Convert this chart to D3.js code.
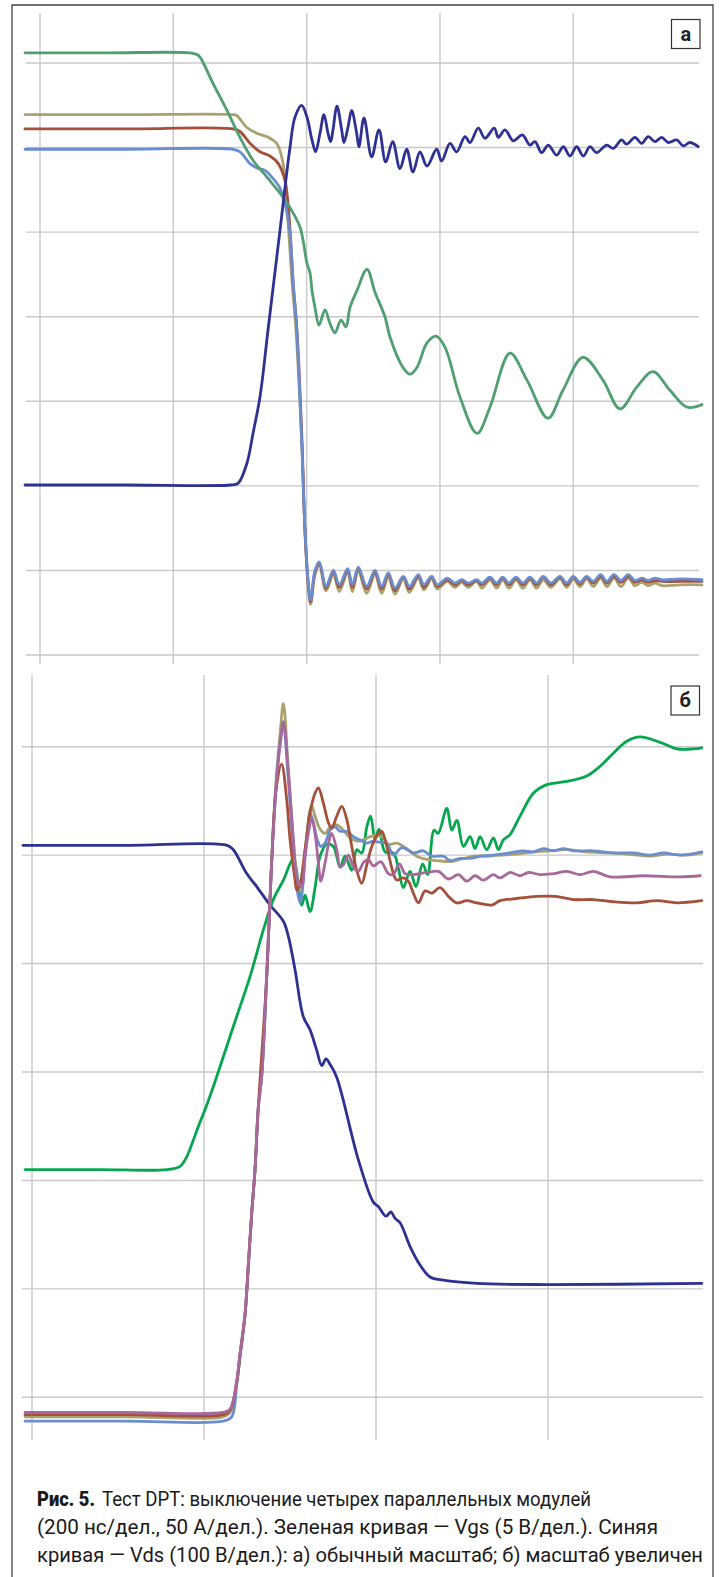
<!DOCTYPE html>
<html>
<head>
<meta charset="utf-8">
<script src="https://cdn.jsdelivr.net/npm/d3@7"></script>
<style>
  html, body { margin: 0; padding: 0; background: #fff; }
</style>
</head>
<body>
<div id="chart"></div>
<script>
// Time in ns, amplitude in scope divisions. Panel "а" (normal scale)
const aTicksX = [0, 200, 400, 600, 800];
const aTicksY = [0, 1, 2, 3, 4, 5, 6, 7];

const aVgs = [[-22.5,7.12],[100,7.12],[225,7.12],[235.5,7.10],[240,7.07],[259.5,6.76],[280.5,6.44],[300,6.12],[319.5,5.85],[340.5,5.65],[360,5.46],[375,5.29],[390,5.06],[394.5,4.91],[400.5,4.63],[405,4.52],[408,4.31],[412.5,4.11],[418.5,3.90],[427.5,4.08],[435,3.92],[442.5,3.81],[451.5,3.96],[459,3.88],[465,4.11],[475.5,4.31],[490.5,4.56],[502.5,4.29],[517.5,4.00],[525,3.76],[544.5,3.40],[555,3.32],[565.5,3.40],[580.5,3.69],[594,3.77],[607.5,3.64],[630,3.05],[655.5,2.62],[675,2.93],[705,3.57],[730.5,3.25],[762,2.80],[784.5,3.13],[814.5,3.52],[844.5,3.25],[870,2.91],[895.5,3.17],[919.5,3.35],[945,3.13],[970.5,2.93],[993,2.96]];

const aVds = [[-22.5,2.01],[130,2.01],[285,2.01],[297,2.03],[310.5,2.27],[319.5,2.62],[330,3.05],[342,3.84],[360,5.02],[375,6.00],[382.5,6.36],[392.5,6.50],[400.5,6.36],[408,6.09],[413.5,5.95],[420,6.17],[426,6.39],[432,6.17],[436,6.07],[439.5,6.21],[445.5,6.49],[452.5,6.21],[456,6.06],[462,6.24],[467.5,6.44],[475,6.17],[478.5,6.01],[486,6.35],[497.5,5.89],[508.5,6.21],[518.5,5.83],[529,6.07],[540,5.75],[550,5.98],[559.5,5.71],[570,5.95],[580.5,5.78],[595,5.98],[602.5,5.84],[615,6.05],[625,5.95],[637.5,6.13],[645,6.06],[657.5,6.23],[667.5,6.11],[681.5,6.23],[687.5,6.12],[697.5,6.21],[710,6.08],[723.5,6.15],[735,6.03],[742.5,6.07],[752.5,5.94],[762.5,6.03],[775,5.91],[785,6.01],[795,5.90],[805,6.01],[815,5.90],[825,6.01],[835,5.94],[850,6.03],[860,5.99],[872.5,6.09],[880,6.04],[892.5,6.12],[902.5,6.05],[912.5,6.13],[922.5,6.07],[932.5,6.12],[942.5,6.06],[955,6.09],[965,6.02],[975,6.06],[987.5,6.01]];

const aIdOlive = [[-22.5,6.39],[130,6.39],[289.5,6.39],[295,6.38],[310,6.24],[325,6.17],[340,6.13],[355,6.05],[362.5,5.89],[367.5,5.65],[372.5,5.08],[378,4.43],[384,3.84],[392.5,2.54],[397.5,1.45],[402.5,0.79],[406,0.60],[412.5,0.95],[419,1.06],[429,0.76],[440,0.95],[449,0.75],[461.5,0.98],[468.5,0.75],[477.5,0.99],[490,0.73],[502.5,0.95],[512.5,0.73],[522.5,0.92],[532.5,0.72],[545,0.90],[554,0.74],[567.5,0.91],[576,0.77],[587.5,0.90],[596,0.78],[611,0.87],[622.5,0.80],[632.5,0.86],[642.5,0.80],[655,0.87],[663,0.79],[675,0.89],[685,0.79],[694,0.89],[703.5,0.79],[714,0.89],[724.5,0.79],[735,0.89],[745,0.79],[755,0.89],[766.5,0.80],[780,0.90],[790,0.80],[800,0.90],[810,0.81],[820,0.90],[830,0.81],[841,0.91],[850.5,0.81],[861,0.91],[871.5,0.81],[882.5,0.91],[892.5,0.82],[902.5,0.86],[912,0.82],[922.5,0.85],[933,0.82],[960,0.83],[993,0.83]];

const aIdBrown = [[-22.5,6.22],[130,6.22],[289.5,6.22],[300,6.19],[315,6.05],[330,5.95],[345,5.90],[357.5,5.81],[367.5,5.61],[372.5,5.30],[376,4.91],[380,4.37],[385.5,3.84],[393,2.54],[397.5,1.47],[402.5,0.83],[406,0.63],[412.5,0.98],[419,1.08],[429,0.79],[440,0.98],[449,0.80],[461.5,1.00],[468.5,0.80],[477.5,1.02],[490,0.78],[502.5,0.98],[512.5,0.78],[522.5,0.95],[532.5,0.76],[545,0.92],[554,0.78],[567.5,0.93],[576,0.80],[587.5,0.92],[596,0.81],[611,0.89],[622.5,0.83],[632.5,0.88],[642.5,0.83],[655,0.88],[663,0.83],[675,0.91],[685,0.83],[694,0.91],[703.5,0.83],[714,0.91],[724.5,0.83],[735,0.91],[745,0.83],[755,0.92],[766.5,0.83],[780,0.92],[790,0.83],[800,0.92],[810,0.84],[820,0.92],[830,0.85],[841,0.93],[850.5,0.85],[861,0.93],[871.5,0.86],[882.5,0.93],[892.5,0.86],[902.5,0.89],[912,0.86],[922.5,0.88],[933,0.87],[960,0.87],[993,0.87]];

const aIdBlue = [[-22.5,5.98],[130,5.98],[289.5,5.98],[300,5.95],[315,5.81],[325,5.76],[337.5,5.73],[350,5.63],[360,5.52],[367.5,5.34],[375,4.98],[379.5,4.43],[385,3.87],[392.5,2.54],[397.5,1.48],[402.5,0.85],[406,0.65],[412.5,1.00],[419,1.10],[429,0.81],[440,1.00],[449,0.83],[461.5,1.02],[468.5,0.83],[477.5,1.04],[490,0.81],[502.5,1.00],[512.5,0.81],[522.5,0.97],[532.5,0.79],[545,0.93],[554,0.81],[567.5,0.95],[576,0.83],[587.5,0.93],[596,0.83],[611,0.91],[622.5,0.85],[632.5,0.89],[642.5,0.85],[655,0.89],[663,0.85],[675,0.92],[685,0.85],[694,0.92],[703.5,0.85],[714,0.92],[724.5,0.85],[735,0.92],[745,0.85],[755,0.93],[766.5,0.85],[780,0.93],[790,0.85],[800,0.93],[810,0.86],[820,0.93],[830,0.87],[841,0.95],[850.5,0.87],[861,0.95],[871.5,0.88],[882.5,0.95],[892.5,0.88],[902.5,0.91],[912,0.88],[922.5,0.91],[933,0.89],[960,0.90],[993,0.89]];

// Panel "б" (zoomed)
const bTicksX = [0, 200, 400, 600];
const bTicksY = [0, 1, 2, 3, 4, 5, 6];

const bVgs = [[-8.1,2.10],[80,2.10],[157,2.10],[172.1,2.13],[180,2.22],[187,2.36],[194.5,2.52],[202.5,2.68],[212.8,2.91],[234.1,3.42],[253.5,3.88],[269,4.31],[280.6,4.59],[292.3,4.77],[303.9,4.96],[313.6,4.54],[317.5,4.63],[323.3,4.48],[329.1,4.70],[335,4.99],[342.7,5.10],[350.4,5.08],[358.2,4.89],[364,4.99],[371.8,4.86],[377.6,5.05],[383.4,5.02],[389.3,5.26],[393.7,5.36],[398.9,5.15],[403.6,5.24],[410.5,5.03],[420.2,5.02],[426,4.88],[431.8,4.70],[439.6,4.85],[446.4,4.71],[454.2,4.92],[460,4.82],[467.5,5.23],[472.2,5.20],[482.3,5.43],[488.1,5.23],[494,5.32],[501.6,5.08],[509.4,5.17],[515.2,5.06],[521,5.17],[528.8,5.05],[536.5,5.16],[542.3,5.05],[548.1,5.14],[555.9,5.19],[567.5,5.36],[583,5.57],[598.6,5.65],[621.9,5.68],[645.1,5.73],[660.6,5.82],[676,5.94],[691.6,6.05],[707.1,6.09],[730.4,6.04],[749.8,5.98],[769.1,5.98],[778.8,5.99]];

const bVds = [[-10.5,5.09],[110,5.09],[226.8,5.09],[234.1,5.05],[249.7,4.83],[261.3,4.71],[276.8,4.54],[292.3,4.39],[298.1,4.25],[305.9,3.94],[315.5,3.51],[323.3,3.39],[331.1,3.20],[336.9,3.06],[341.9,3.12],[346.6,3.07],[354.4,2.95],[379.5,2.19],[396.9,1.80],[402.7,1.76],[411.7,1.67],[417.2,1.71],[422.2,1.65],[428,1.61],[439.6,1.39],[451.2,1.22],[462.9,1.11],[478.3,1.08],[517.2,1.05],[598.6,1.04],[778.8,1.05]];

const bIdOlive = [[-8.1,-0.18],[110,-0.18],[222.1,-0.18],[230.3,-0.14],[238.1,0.14],[241.9,0.39],[247.7,0.76],[251.6,1.22],[255.5,1.70],[259.3,2.10],[263.2,2.68],[267.1,2.96],[272.9,3.88],[278.8,4.96],[283.8,5.69],[288.4,6.11],[292.3,6.40],[297.7,5.83],[303.9,5.14],[308.2,4.79],[310.9,4.68],[313.6,4.80],[319.5,5.17],[323.3,5.42],[325.3,5.45],[329.1,5.36],[335,5.24],[340.8,5.20],[346.6,5.26],[354.4,5.28],[362,5.23],[369.8,5.16],[377.6,5.13],[385.3,5.14],[393.1,5.17],[400.9,5.18],[408.6,5.16],[414.4,5.10],[424.2,5.11],[435.8,5.06],[447.4,4.99],[459,4.96],[470.7,4.95],[486.1,4.94],[497.8,4.96],[513.2,4.99],[528.8,4.99],[544.3,5.00],[563.7,5.01],[583,5.03],[602.4,5.04],[621.9,5.05],[645.1,5.03],[672.2,5.02],[691.6,5.01],[718.7,4.99],[738.1,5.01],[761.4,5.00],[778.8,5.02]];

const bIdBlue = [[-8.1,-0.22],[110,-0.22],[222.1,-0.22],[232.2,-0.18],[238.1,0.12],[241.9,0.37],[247.7,0.76],[251.6,1.22],[255.5,1.70],[259.3,2.10],[263.2,2.68],[267.1,2.96],[272.9,3.88],[278.8,4.96],[283.8,5.63],[288.4,6.01],[292.3,6.20],[298.1,5.69],[303.9,5.05],[308.2,4.68],[311.7,4.56],[313.6,4.62],[317.5,4.99],[321.3,5.30],[323.3,5.39],[327.2,5.30],[331.8,5.14],[335.8,5.08],[340.8,5.11],[346.6,5.23],[352.4,5.26],[358.2,5.22],[366,5.22],[373.7,5.17],[381.5,5.14],[389.3,5.11],[396.9,5.13],[402.7,5.12],[412.5,5.11],[420.2,5.00],[430,5.07],[443.4,5.02],[455.1,5.04],[464.9,4.99],[478.3,4.99],[486.1,4.95],[497.8,4.97],[509.4,4.97],[521,4.99],[536.5,5.00],[555.9,5.02],[571.4,5.04],[583,5.03],[594.6,5.06],[606.3,5.04],[617.9,5.06],[629.5,5.04],[652.8,5.04],[676,5.02],[699.3,5.02],[718.7,5.00],[734.2,5.02],[753.6,5.00],[778.8,5.03]];

const bIdBrown = [[-8.1,-0.16],[110,-0.16],[222.1,-0.16],[230.3,-0.12],[238.1,0.14],[241.9,0.39],[247.7,0.76],[251.6,1.22],[255.5,1.70],[259.3,2.10],[263.2,2.68],[272.9,3.88],[278.8,4.96],[283.8,5.60],[290.2,5.84],[296.2,5.51],[300.1,5.14],[305.9,4.77],[307.8,4.68],[311.7,4.73],[317.5,5.05],[323.3,5.39],[329.1,5.57],[333,5.62],[338.8,5.48],[344.6,5.30],[348.5,5.25],[354.4,5.36],[360.2,5.45],[366,5.33],[371.8,5.08],[377.6,4.86],[383.4,4.74],[389.3,4.91],[395.1,5.08],[402.7,5.20],[406.7,5.22],[412.5,5.08],[420.2,4.83],[424.2,4.77],[431.8,4.79],[437.6,4.76],[443.4,4.65],[449.3,4.56],[457.1,4.67],[464.9,4.65],[474.5,4.70],[484.2,4.62],[493.9,4.56],[505.6,4.58],[517.2,4.56],[534.6,4.54],[544.3,4.58],[563.7,4.60],[587,4.62],[608.2,4.62],[629.5,4.59],[652.8,4.59],[676,4.57],[703.3,4.56],[726.5,4.58],[749.8,4.56],[778.8,4.58]];

const bIdPink = [[-8.1,-0.14],[110,-0.14],[222.1,-0.14],[230.3,-0.11],[238.1,0.16],[241.9,0.41],[247.7,0.77],[251.6,1.24],[255.5,1.70],[259.3,2.10],[263.2,2.68],[267.1,2.96],[272.9,3.88],[278.8,4.96],[283.8,5.63],[288.4,6.03],[292.3,6.23],[298.1,5.76],[303.9,5.14],[307.8,4.80],[313.6,4.71],[317.5,4.99],[321.3,5.20],[325.3,5.34],[329.1,5.20],[333,4.93],[335.8,4.76],[340.8,4.93],[346.6,5.17],[348.5,5.20],[354.4,5.05],[358.2,4.89],[362,4.91],[367.9,5.00],[373.7,4.89],[379.5,4.85],[385.3,4.93],[391.1,4.96],[396.9,4.90],[405.5,4.94],[414.4,4.83],[420.2,4.82],[427.2,4.92],[433.8,4.83],[443.4,4.82],[459,4.84],[472.5,4.85],[484.2,4.78],[495.8,4.82],[505.6,4.76],[515.2,4.81],[524.9,4.77],[536.5,4.82],[544.3,4.79],[555.9,4.84],[567.5,4.81],[577.2,4.84],[590.8,4.82],[606.3,4.83],[621.9,4.85],[637.3,4.82],[652.8,4.85],[672.2,4.80],[711,4.81],[753.6,4.80],[776.9,4.81]];

// caption: one entry per printed fragment
const captionParts = [
  {text: "Рис. 5.", bold: true, line: 0, start: 37, len: 58},
  {text: "Тест DPT: выключение четырех параллельных модулей", bold: false, line: 0, start: 102, len: 489},
  {text: "(200 нс/дел., 50 А/дел.). Зеленая кривая — Vgs (5 В/дел.). Синяя", bold: false, line: 1, start: 37, len: 621},
  {text: "кривая — Vds (100 В/дел.): а) обычный масштаб; б) масштаб увеличен", bold: false, line: 2, start: 37, len: 666}
];

const colors = {
  navy: "#2e3192",
  greenA: "#4f9f70",
  greenB: "#06a64f",
  olive: "#aaa26e",
  brown: "#a4503a",
  lightBlue: "#6a8dcf",
  pink: "#a7699d",
  grid: "#c9c9cb"
};

const width = 719, height = 1577;

const svg = d3.select("#chart").append("svg")
  .attr("width", width)
  .attr("height", height)
  .attr("viewBox", [0, 0, width, height])
  .style("display", "block");

// panel scales
const xA = d3.scaleLinear().domain([0, 800]).range([40, 573.3]);
const yA = d3.scaleLinear().domain([0, 7]).range([655, 63]);
const xB = d3.scaleLinear().domain([0, 600]).range([32, 548]);
const yB = d3.scaleLinear().domain([0, 6]).range([1397.3, 746.7]);

function drawGrid(g, x, y, ticksX, ticksY, vTop, vBottom, hLeft, hRight) {
  g.append("g")
    .selectAll("line")
    .data(ticksX)
    .join("line")
    .attr("x1", d => x(d)).attr("x2", d => x(d))
    .attr("y1", vTop).attr("y2", vBottom)
    .attr("stroke", colors.grid).attr("stroke-width", 1.4);
  g.append("g")
    .selectAll("line")
    .data(ticksY)
    .join("line")
    .attr("x1", hLeft).attr("x2", hRight)
    .attr("y1", d => y(d)).attr("y2", d => y(d))
    .attr("stroke", colors.grid).attr("stroke-width", 1.4);
}

function drawCurves(g, x, y, series) {
  const line = d3.line()
    .x(d => x(d[0]))
    .y(d => y(d[1]))
    .curve(d3.curveCatmullRom.alpha(0.5));
  g.append("g")
    .attr("fill", "none")
    .attr("stroke-width", 2.8)
    .attr("stroke-linejoin", "round")
    .attr("stroke-linecap", "round")
    .selectAll("path")
    .data(series)
    .join("path")
    .attr("stroke", d => d.color)
    .attr("d", d => line(d.values));
}

function drawLabel(g, x, y, text) {
  g.append("rect")
    .attr("x", x).attr("y", y)
    .attr("width", 28.5).attr("height", 29)
    .attr("fill", "#fff")
    .attr("stroke", "#333").attr("stroke-width", 1.2);
  g.append("text")
    .attr("x", x + 14.25).attr("y", y + 21)
    .attr("text-anchor", "middle")
    .attr("font-family", "Roboto, 'DejaVu Sans', sans-serif")
    .attr("font-weight", "bold")
    .attr("font-size", 20)
    .attr("fill", "#222")
    .text(text);
}

// panel а
const gA = svg.append("g");
drawGrid(gA, xA, yA, aTicksX, aTicksY, 13, 664, 26, 699);
drawCurves(gA, xA, yA, [
  {color: colors.olive, values: aIdOlive},
  {color: colors.brown, values: aIdBrown},
  {color: colors.lightBlue, values: aIdBlue},
  {color: colors.greenA, values: aVgs},
  {color: colors.navy, values: aVds}
]);
drawLabel(gA, 671.5, 19.5, "а");

// panel б
const gB = svg.append("g");
drawGrid(gB, xB, yB, bTicksX, bTicksY, 675, 1440, 22, 703);
drawCurves(gB, xB, yB, [
  {color: colors.navy, values: bVds},
  {color: colors.greenB, values: bVgs},
  {color: colors.olive, values: bIdOlive},
  {color: colors.lightBlue, values: bIdBlue},
  {color: colors.brown, values: bIdBrown},
  {color: colors.pink, values: bIdPink}
]);
drawLabel(gB, 671, 686, "б");

// outer frame
svg.append("path")
  .attr("d", `M12,1577 V5 H713 V1577`)
  .attr("fill", "none")
  .attr("stroke", "#444")
  .attr("stroke-width", 1.3);

// caption
svg.append("g")
  .attr("font-family", "Roboto, 'Liberation Sans', sans-serif")
  .attr("font-size", 20)
  .attr("fill", "#1a1a1a")
  .selectAll("text")
  .data(captionParts)
  .join("text")
  .attr("x", d => d.start)
  .attr("y", d => 1506 + d.line * 28)
  .attr("font-weight", d => d.bold ? 900 : 400)
  .attr("textLength", d => d.len)
  .attr("lengthAdjust", "spacingAndGlyphs")
  .text(d => d.text);
</script>
</body>
</html>
